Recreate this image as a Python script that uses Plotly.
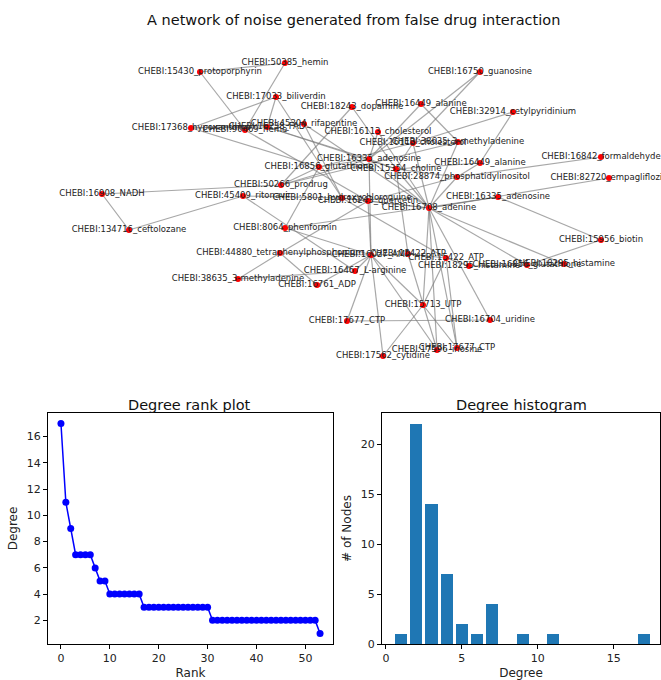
import plotly.graph_objects as go

# ---------------- data ----------------
node_names = [
    "CHEBI:50385_hemin", "CHEBI:15430_protoporphyrin", "CHEBI:17033_biliverdin",
    "CHEBI:18243_dopamine", "CHEBI:17368_hypoxanthine", "CHEBI:90469_heme",
    "CHEBI:16238_FAD", "CHEBI:45304_rifapentine", "CHEBI:16750_guanosine",
    "CHEBI:16449_alanine", "CHEBI:32914_cetylpyridinium", "CHEBI:16113_cholesterol",
    "CHEBI:16113_cholesterol", "CHEBI:38635_3-methyladenine", "CHEBI:16842_formaldehyde",
    "CHEBI:16335_adenosine", "CHEBI:16449_alanine", "CHEBI:16856_glutathione",
    "CHEBI:15354_choline", "CHEBI:28874_phosphatidylinositol", "CHEBI:82720_empagliflozin",
    "CHEBI:50266_prodrug", "CHEBI:16908_NADH", "CHEBI:45409_ritonavir",
    "CHEBI:5801_hydroxychloroquine", "CHEBI:16243_quercetin", "CHEBI:16335_adenosine",
    "CHEBI:16708_adenine", "CHEBI:8064_phenformin", "CHEBI:134716_ceftolozane",
    "CHEBI:15956_biotin", "CHEBI:44880_tetraphenylphosphonium", "CHEBI:16027_AMP",
    "CHEBI:15422_ATP", "CHEBI:15422_ATP", "CHEBI:18295_histamine",
    "CHEBI:16856_glutathione", "CHEBI:18295_histamine", "CHEBI:16467_L-arginine",
    "CHEBI:16761_ADP", "CHEBI:38635_3-methyladenine", "CHEBI:15713_UTP",
    "CHEBI:16704_uridine", "CHEBI:17677_CTP", "CHEBI:17677_CTP",
    "CHEBI:17596_inosine", "CHEBI:17562_cytidine",
]
# layout positions of the nodes (network drawing coordinates)
node_x = [285, 200, 276, 352, 191, 245, 267, 304, 480, 421, 513, 378, 413, 458, 601,
          369, 480, 319, 396, 457, 609, 281, 102, 243, 342, 368, 498, 429, 285, 129,
          601, 280, 371, 408, 446, 469, 527, 564, 355, 317, 238, 423, 490, 347, 457,
          437, 383]
node_y = [63, 72, 97, 107, 128, 130, 127, 124, 72, 104, 112, 132, 143, 142, 157,
          159, 163, 167, 169, 177, 178, 185, 194, 196, 198, 201, 197, 208, 228, 230,
          240, 253, 255, 254, 258, 266, 265, 264, 271, 285, 279, 305, 320, 321, 348,
          350, 356]
edge_source = [0, 0, 1, 2, 2, 2, 4, 4, 4, 3, 3, 5, 6, 6, 7, 7, 8, 8, 9, 9, 10, 10,
               11, 11, 12, 12, 12, 13, 13, 14, 20, 15, 15, 15, 15, 15, 16, 16, 17, 17,
               18, 18, 18, 19, 19, 21, 22, 29, 23, 23, 24, 24, 24, 25, 25, 26, 26, 28,
               27, 27, 27, 27, 27, 27, 30, 31, 31, 31, 32, 32, 32, 32, 32, 32, 32, 33,
               34, 34, 34, 35, 36, 38, 41, 41, 43, 43, 33, 31]
edge_target = [1, 5, 5, 4, 6, 24, 6, 17, 7, 21, 18, 25, 15, 18, 27, 24, 15, 12, 15, 13,
               12, 16, 15, 27, 18, 27, 17, 27, 21, 19, 27, 17, 18, 21, 32, 27, 18, 19,
               21, 28, 19, 27, 33, 27, 25, 22, 29, 23, 24, 38, 25, 27, 34, 27, 32, 30,
               27, 26, 36, 37, 41, 44, 45, 42, 36, 40, 32, 39, 38, 39, 46, 41, 45, 33,
               28, 34, 35, 44, 41, 36, 37, 40, 46, 44, 42, 32, 45, 25]

rank_degree = [17, 11, 9, 7, 7, 7, 7, 6, 5, 5, 4, 4, 4, 4, 4, 4, 4,
               3, 3, 3, 3, 3, 3, 3, 3, 3, 3, 3, 3, 3, 3,
               2, 2, 2, 2, 2, 2, 2, 2, 2, 2, 2, 2, 2, 2, 2, 2, 2, 2, 2, 2, 2, 2, 1]
hist_degree = [1, 2, 3, 4, 5, 6, 7, 9, 11, 17]
hist_count = [1, 22, 14, 7, 2, 1, 4, 1, 1, 1]

title_text = "A network of noise generated from false drug interaction"

# ---------------- figure ----------------
W, H = 661, 680
FONT = "DejaVu Sans"
fig = go.Figure()

ex, ey = [], []
for s, t in zip(edge_source, edge_target):
    ex += [node_x[s], node_x[t], None]
    ey += [node_y[s], node_y[t], None]
fig.add_trace(go.Scatter(x=ex, y=ey, mode="lines", xaxis="x3", yaxis="y3",
                         line=dict(color="rgba(120,120,120,0.65)", width=1.2),
                         hoverinfo="skip", showlegend=False))
fig.add_trace(go.Scatter(x=node_x, y=node_y, mode="markers", xaxis="x3", yaxis="y3",
                         marker=dict(color="#ff0000", size=6, line=dict(width=0)),
                         showlegend=False, hovertext=node_names))
fig.add_trace(go.Scatter(x=node_x, y=node_y, mode="text", xaxis="x3", yaxis="y3",
                         text=node_names, textposition="middle center",
                         textfont=dict(family=FONT, size=8.5, color="#222"),
                         cliponaxis=False, hoverinfo="skip", showlegend=False))

# rank plot
fig.add_trace(go.Scatter(x=list(range(len(rank_degree))), y=rank_degree,
                         mode="lines+markers", xaxis="x", yaxis="y",
                         line=dict(color="#0000ff", width=1.5),
                         marker=dict(color="#0000ff", size=7), showlegend=False))
# histogram
fig.add_trace(go.Bar(x=hist_degree, y=hist_count, width=0.8, xaxis="x2", yaxis="y2",
                     marker=dict(color="#1f77b4", line=dict(width=0)), showlegend=False))

def px_x(p):
    return p / W

def px_y(p):
    return (H - p) / H

axstyle = dict(showline=True, mirror=True, linecolor="black", linewidth=1,
               ticks="outside", ticklen=4, tickcolor="black", showgrid=False,
               zeroline=False, automargin=False,
               tickfont=dict(family=FONT, size=11, color="#222"))

fig.update_layout(
    width=W, height=H, autosize=False, margin=dict(l=0, r=0, t=0, b=0, autoexpand=False),
    paper_bgcolor="white", plot_bgcolor="white",
    font=dict(family=FONT, color="#222"),
    bargap=0,
    xaxis=dict(domain=[px_x(48), px_x(333)], range=[-2.65, 55.65],
               tickvals=[0, 10, 20, 30, 40, 50],
               title=dict(text="Rank", font=dict(size=12), standoff=4), **axstyle),
    yaxis=dict(domain=[px_y(644), px_y(413)], range=[0.2, 17.8],
               tickvals=[2, 4, 6, 8, 10, 12, 14, 16],
               title=dict(text="Degree", font=dict(size=12), standoff=6), **axstyle),
    xaxis2=dict(domain=[px_x(382), px_x(660)], range=[-0.26, 18.05],
                tickvals=[0, 5, 10, 15], anchor="y2",
                title=dict(text="Degree", font=dict(size=12), standoff=4), **axstyle),
    yaxis2=dict(domain=[px_y(644), px_y(413)], range=[0, 23.1], anchor="x2",
                tickvals=[0, 5, 10, 15, 20],
                title=dict(text="# of Nodes", font=dict(size=12), standoff=6), **axstyle),
    xaxis3=dict(domain=[0, 1], range=[0, W], visible=False, anchor="y3"),
    yaxis3=dict(domain=[px_y(382), px_y(35)], range=[382, 35], visible=False, anchor="x3"),
    annotations=[
        dict(text=title_text, x=px_x(353), y=px_y(20), xref="paper", yref="paper",
             showarrow=False, xanchor="center", yanchor="middle",
             font=dict(family=FONT, size=14.5, color="#111")),
        dict(text="Degree rank plot", x=px_x(190), y=px_y(405), xref="paper", yref="paper",
             showarrow=False, xanchor="center", yanchor="middle",
             font=dict(family=FONT, size=14.5, color="#111")),
        dict(text="Degree histogram", x=px_x(521), y=px_y(405), xref="paper", yref="paper",
             showarrow=False, xanchor="center", yanchor="middle",
             font=dict(family=FONT, size=14.5, color="#111")),
    ],
)

fig.write_html("out.html", config={"displayModeBar": False})

# remove the default page margin so the figure sits at the window's top-left corner
with open("out.html", "r", encoding="utf-8") as f:
    html = f.read()
html = html.replace("<head>", "<head><style>html,body{margin:0;padding:0;overflow:hidden;}</style>", 1)
with open("out.html", "w", encoding="utf-8") as f:
    f.write(html)
